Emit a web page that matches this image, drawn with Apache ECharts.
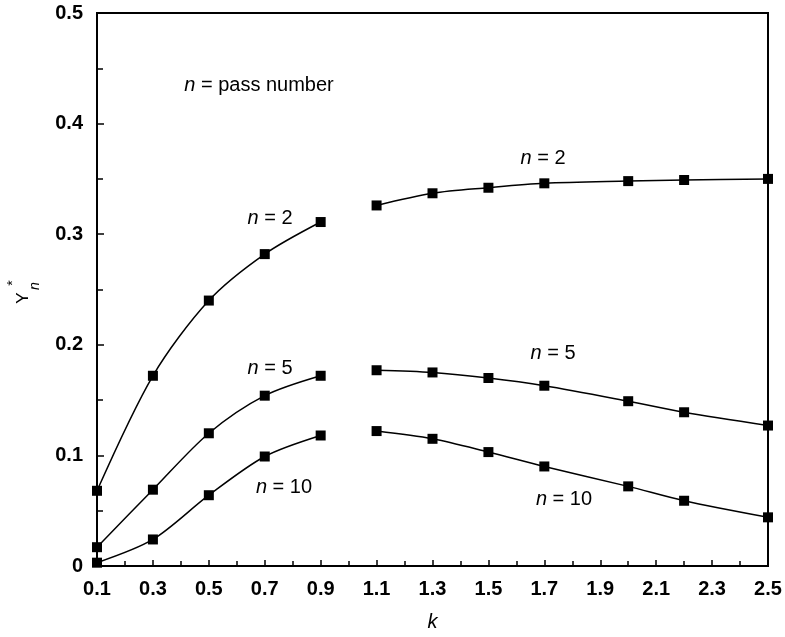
<!DOCTYPE html>
<html>
<head>
<meta charset="utf-8">
<script src="https://cdn.jsdelivr.net/npm/echarts@6/dist/echarts.min.js"></script>
<style>
html,body{margin:0;padding:0;background:#fff;}
#chart{width:785px;height:637px;}
</style>
</head>
<body>
<div id="chart"></div>
<script>
// k values
var kLeft = [0.1, 0.3, 0.5, 0.7, 0.9];
var kRight = [1.1, 1.3, 1.5, 1.7, 2.0, 2.2, 2.5];
// Y*_n for n = 2
var n2Left = [0.068, 0.172, 0.240, 0.282, 0.311];
var n2Right = [0.326, 0.337, 0.342, 0.346, 0.348, 0.349, 0.350];
// n = 5
var n5Left = [0.017, 0.069, 0.120, 0.154, 0.172];
var n5Right = [0.177, 0.175, 0.170, 0.163, 0.149, 0.139, 0.127];
// n = 10
var n10Left = [0.003, 0.024, 0.064, 0.099, 0.118];
var n10Right = [0.122, 0.115, 0.103, 0.090, 0.072, 0.059, 0.044];

var FONT = 'Liberation Sans, Arial, Helvetica, sans-serif';

function pairs(ks, vs) { return ks.map(function (k, i) { return [k, vs[i]]; }); }

function mkSeries(name, ks, vs) {
  return {
    name: name,
    type: 'line',
    data: pairs(ks, vs),
    smooth: 0.3,
    symbol: 'rect',
    symbolSize: 10,
    clip: false,
    lineStyle: { color: '#000', width: 1.5 },
    itemStyle: { color: '#000' },
    emphasis: { disabled: true },
    animation: false
  };
}

function label(txt, x, y) {
  return {
    type: 'text', x: x, y: y,
    style: {
      text: '{i|n}{r| = ' + txt + '}',
      rich: {
        i: { fontStyle: 'italic', fontSize: 20, fontFamily: FONT, fill: '#000', color: '#000' },
        r: { fontSize: 20, fontFamily: FONT, fill: '#000', color: '#000' }
      },
      font: '20px ' + FONT,
      textAlign: 'center', textVerticalAlign: 'middle',
      align: 'center', verticalAlign: 'middle',
      fill: '#000'
    }
  };
}

function rotText(txt, x, y, font) {
  return {
    type: 'text', x: x, y: y, rotation: Math.PI / 2,
    style: {
      text: txt, font: font, fill: '#000',
      textAlign: 'center', textVerticalAlign: 'middle',
      align: 'center', verticalAlign: 'middle'
    }
  };
}

var chart = echarts.init(document.getElementById('chart'), null, { renderer: 'canvas' });
chart.setOption({
  animation: false,
  backgroundColor: '#fff',
  grid: {
    left: 97, right: 17, top: 13, bottom: 71,
    show: true, borderColor: '#000', borderWidth: 2
  },
  xAxis: {
    type: 'value',
    min: 0.1, max: 2.5, interval: 0.2,
    name: 'k', nameLocation: 'middle', nameGap: 46,
    nameTextStyle: { fontSize: 20, fontStyle: 'italic', fontFamily: FONT, color: '#000' },
    axisLine: { show: true, lineStyle: { color: '#000', width: 2 } },
    axisTick: { show: true, inside: true, length: 6, lineStyle: { color: '#000', width: 1.5 } },
    minorTick: { show: true, splitNumber: 2, length: 5, lineStyle: { color: '#000', width: 1.5 } },
    splitLine: { show: false },
    axisLabel: {
      fontSize: 20, fontWeight: 'bold', fontFamily: FONT, color: '#000', margin: 13,
      formatter: function (v) { return (Math.round(v * 10) / 10).toFixed(1); }
    }
  },
  yAxis: {
    type: 'value',
    min: 0, max: 0.5, interval: 0.1,
    axisLine: { show: true, lineStyle: { color: '#000', width: 2 } },
    axisTick: { show: true, inside: true, length: 7, lineStyle: { color: '#000', width: 1.5 } },
    minorTick: { show: true, splitNumber: 2, length: 6, lineStyle: { color: '#000', width: 1.5 } },
    splitLine: { show: false },
    axisLabel: {
      fontSize: 20, fontWeight: 'bold', fontFamily: FONT, color: '#000', margin: 14,
      formatter: function (v) { return v === 0 ? '0' : (Math.round(v * 10) / 10).toFixed(1); }
    }
  },
  series: [
    mkSeries('n2a', kLeft, n2Left),
    mkSeries('n2b', kRight, n2Right),
    mkSeries('n5a', kLeft, n5Left),
    mkSeries('n5b', kRight, n5Right),
    mkSeries('n10a', kLeft, n10Left),
    mkSeries('n10b', kRight, n10Right)
  ],
  graphic: [
    {
      type: 'text', x: 259, y: 85,
      style: {
        text: '{i|n}{r| = pass number}',
        rich: {
          i: { fontStyle: 'italic', fontSize: 20, fontFamily: FONT, fill: '#000', color: '#000' },
          r: { fontSize: 20, fontFamily: FONT, fill: '#000', color: '#000' }
        },
        font: '20px ' + FONT,
        textAlign: 'center', textVerticalAlign: 'middle',
        align: 'center', verticalAlign: 'middle', fill: '#000'
      }
    },
    label('2', 270, 218),
    label('2', 543, 158),
    label('5', 270, 368),
    label('5', 553, 353),
    label('10', 284, 487),
    label('10', 564, 499),
    rotText('Y', 23, 298, '17px ' + FONT),
    rotText('*', 13, 283, '14px ' + FONT),
    rotText('n', 35, 286, 'italic 14px ' + FONT)
  ]
});
</script>
</body>
</html>
